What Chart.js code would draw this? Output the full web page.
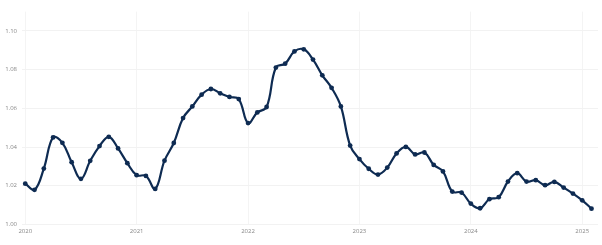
<!DOCTYPE html>
<html>
<head>
<meta charset="utf-8">
<script src="https://cdn.jsdelivr.net/npm/chart.js@4.4.1/dist/chart.umd.min.js"></script>
<style>
html,body{margin:0;padding:0;background:#fff;}
#wrap{position:relative;width:602px;height:245px;}
</style>
</head>
<body>
<div id="wrap"><canvas id="c" width="602" height="245"></canvas></div>
<script>
const yearLabels = ["2020","2021","2022","2023","2024","2025"];
const yearTickPositions = [0,12,24,36,48,60];
const yTickValues = [1.00,1.02,1.04,1.06,1.08,1.10];
const values = [
 1.0211,1.0179,1.0289,1.0450,1.0422,1.0322,1.0236,1.0329,1.0405,1.0453,1.0393,1.0317,
 1.0255,1.0251,1.0184,1.0330,1.0421,1.0550,1.0610,1.0671,1.0700,1.0678,1.0659,1.0648,
 1.0524,1.0579,1.0607,1.0811,1.0831,1.0894,1.0905,1.0852,1.0771,1.0706,1.0610,1.0408,
 1.0338,1.0288,1.0258,1.0294,1.0367,1.0401,1.0362,1.0372,1.0308,1.0274,1.0170,1.0165,
 1.0108,1.0084,1.0131,1.0141,1.0222,1.0265,1.0222,1.0229,1.0203,1.0220,1.0191,1.0160,
 1.0125,1.0082
];
const points = values.map((v,i)=>({x:i,y:v}));
const navy = '#0e2b52';
new Chart(document.getElementById('c'), {
  type: 'line',
  data: { datasets: [{
    data: points,
    borderColor: navy,
    backgroundColor: navy,
    borderWidth: 2.2,
    pointRadius: 2.4,
    pointBorderWidth: 0,
    pointBackgroundColor: navy,
    tension: 0.4,
    fill: false
  }]},
  options: {
    responsive: false,
    animation: false,
    devicePixelRatio: 1,
    layout: { padding: { top: 11.6, right: 4, left: 0, bottom: 0 } },
    plugins: { legend: { display: false }, tooltip: { enabled: false } },
    scales: {
      x: {
        type: 'linear',
        min: -0.35,
        max: 61.7,
        afterBuildTicks: s => { s.ticks = yearTickPositions.map(v=>({value:v})); },
        afterFit: s => { s.height = 20.5; },
        ticks: {
          autoSkip: false, maxRotation: 0, padding: 3,
          color: '#888', font: { family: 'Open Sans', size: 6 },
          callback: (v) => { const k = yearTickPositions.indexOf(v); return k>=0 ? yearLabels[k] : ''; }
        },
        grid: { color: '#f4f4f4', drawTicks: false, lineWidth: 1 },
        border: { display: false }
      },
      y: {
        min: 1.00,
        max: 1.11,
        afterBuildTicks: s => { s.ticks = yTickValues.map(v=>({value:v})); },
        afterFit: s => { s.width = 22; },
        ticks: {
          padding: 5, color: '#888', font: { family: 'Open Sans', size: 6 },
          callback: v => Number(v).toFixed(2)
        },
        grid: { color: '#f2f2f2', drawTicks: false, lineWidth: 1 },
        border: { display: false }
      }
    }
  }
});
</script>
</body>
</html>
